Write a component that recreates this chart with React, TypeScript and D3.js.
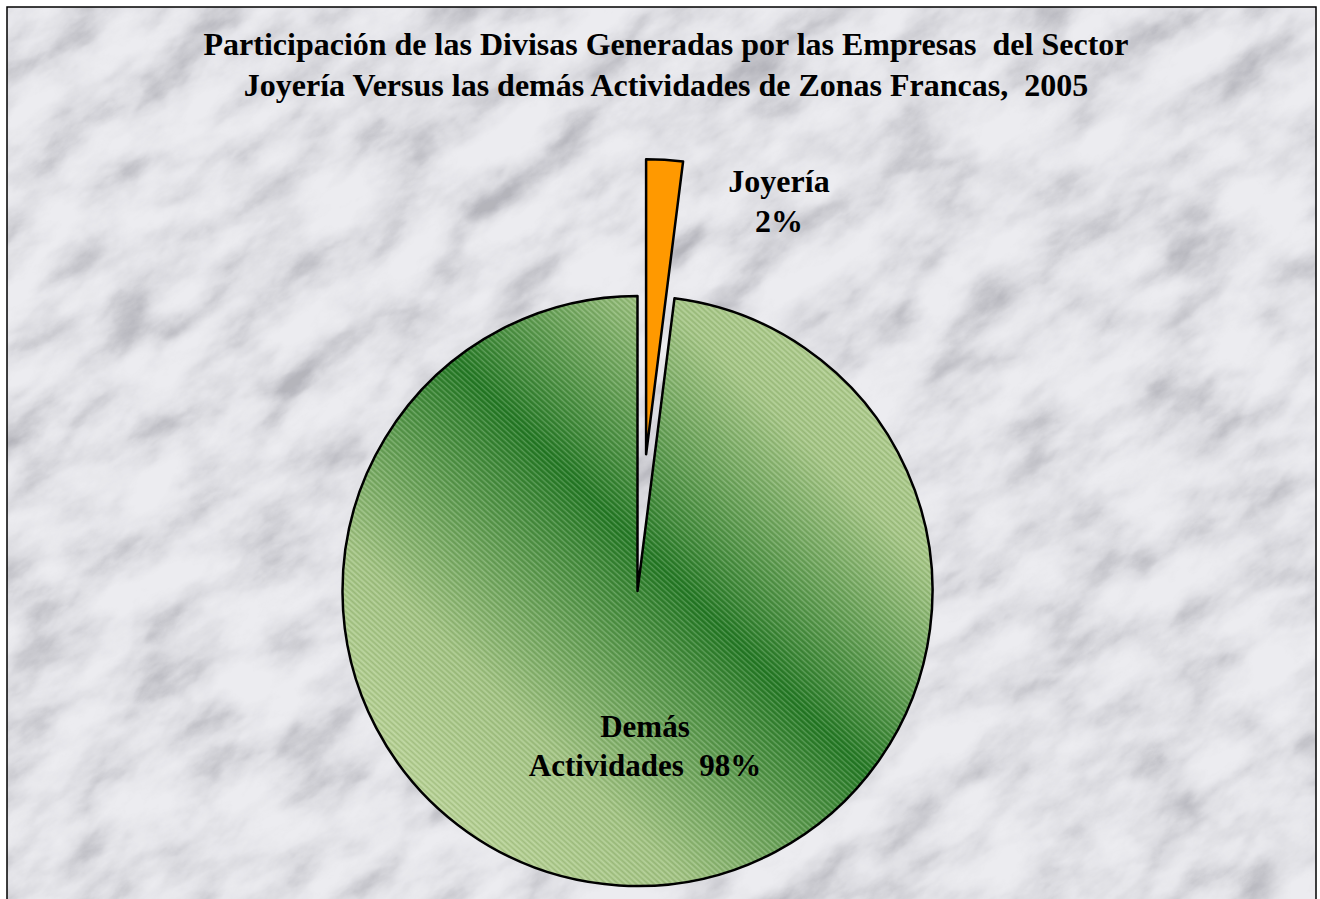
import React from "react";
import * as d3 from "d3";

const categories = ["Joyería", "Demás Actividades"];
const values = [2, 98];
const labelLines = [["Joyería", "2%"], ["Demás", "Actividades  98%"]];
const titleLines = [
  "Participación de las Divisas Generadas por las Empresas  del Sector",
  "Joyería Versus las demás Actividades de Zonas Francas,  2005",
];

const W = 1320;
const H = 899;
const cx = 637.5;
const cy = 591;
const R = 295;
const explode = 137;

export default function App() {
  const pie = d3.pie<number>().sort(null).value((d) => d)(values);
  const arc = d3.arc<d3.PieArcDatum<number>>().innerRadius(0).outerRadius(R);
  const font = "Liberation Serif";

  const fills = ["#ff9900", "url(#greenGrad)"];
  const labelPos = [
    [779, 192],
    [645, 737],
  ];
  const labelSize = [32, 31];
  const labelGap = [40, 39];

  return (
    <svg width={W} height={H} style={{ position: "absolute", left: 0, top: 0 }}>
      <defs>
        <filter id="marble" x="0" y="0" width="1" height="1">
          <feTurbulence type="fractalNoise" baseFrequency="0.012 0.024" numOctaves={6} seed={11} result="t" />
          <feColorMatrix
            in="t"
            type="matrix"
            values="0 0 0 0 0  0 0 0 0 0  0 0 0 0 0  1.4 -0.6 0.5 0 -0.3"
            result="a"
          />
          <feComponentTransfer in="a" result="b">
            <feFuncA type="table" tableValues="0 0.05 0.15 0.32 0.5" />
          </feComponentTransfer>
          <feFlood floodColor="#7c7c86" result="f" />
          <feComposite in="f" in2="b" operator="in" />
        </filter>
        <clipPath id="frameClip">
          <rect x={7} y={7} width={1309} height={900} />
        </clipPath>
        <linearGradient id="greenGrad" gradientUnits="userSpaceOnUse" x1={cx - 260} y1={cy + 260} x2={cx + 260} y2={cy - 260}>
          <stop offset="0" stopColor="#bcd598" />
          <stop offset="0.22" stopColor="#a0c280" />
          <stop offset="0.5" stopColor="#227822" />
          <stop offset="0.76" stopColor="#a2c482" />
          <stop offset="1" stopColor="#b8d294" />
        </linearGradient>
        <pattern id="hatch" patternUnits="userSpaceOnUse" width={4} height={4} patternTransform="rotate(42)">
          <rect x={0} y={0} width={4} height={1.3} fill="#ffffff" opacity={0.22} />
          <rect x={0} y={2} width={4} height={1} fill="#000000" opacity={0.08} />
        </pattern>
      </defs>

      <rect x={0} y={0} width={W} height={H} fill="#ffffff" />
      <g clipPath="url(#frameClip)">
        <rect x={7} y={7} width={1309} height={900} fill="#ececf0" />
        <g transform="rotate(-35 660 450)">
          <rect x={-500} y={-500} width={2400} height={1900} filter="url(#marble)" />
        </g>
      </g>
      <rect x={7} y={7} width={1309} height={905} fill="none" stroke="#000" strokeWidth={1.5} />

      {titleLines.map((t, i) => (
        <text
          key={i}
          x={666}
          y={55 + i * 41}
          textAnchor="middle"
          style={{ fontFamily: font, fontWeight: "bold", fontSize: 32, whiteSpace: "pre" }}
          fill="#000"
        >
          {t}
        </text>
      ))}

      {pie.map((p, i) => {
        const mid = (p.startAngle + p.endAngle) / 2;
        const off = i === 0 ? explode : 0;
        const dx = Math.sin(mid) * off;
        const dy = -Math.cos(mid) * off;
        return (
          <g key={categories[i]} transform={`translate(${cx + dx},${cy + dy})`}>
            <path d={arc(p) || ""} fill={fills[i]} />
            {i === 1 && <path d={arc(p) || ""} fill="url(#hatch)" />}
            <path d={arc(p) || ""} fill="none" stroke="#000" strokeWidth={2.5} strokeLinejoin="round" />
          </g>
        );
      })}

      {labelLines.map((lines, i) => (
        <text
          key={i}
          x={labelPos[i][0]}
          y={labelPos[i][1]}
          textAnchor="middle"
          style={{ fontFamily: font, fontWeight: "bold", fontSize: labelSize[i], whiteSpace: "pre" }}
          fill="#000"
        >
          {lines.map((l, j) => (
            <tspan key={j} x={labelPos[i][0]} dy={j === 0 ? 0 : labelGap[i]}>
              {l}
            </tspan>
          ))}
        </text>
      ))}
    </svg>
  );
}
